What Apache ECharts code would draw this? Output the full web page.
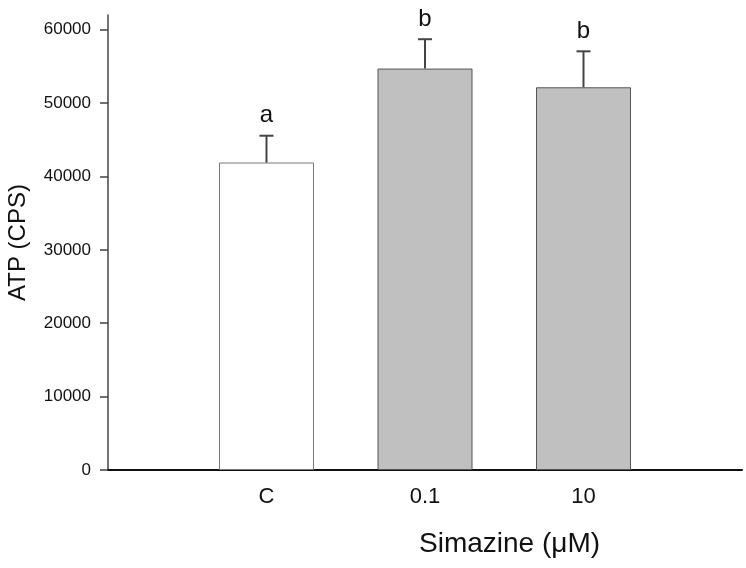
<!DOCTYPE html>
<html>
<head>
<meta charset="utf-8">
<script src="https://cdn.jsdelivr.net/npm/echarts@6/dist/echarts.min.js"></script>
<style>html,body{margin:0;padding:0;background:#fff}#c{width:746px;height:568px}</style>
</head>
<body>
<div id="c"></div>
<script>
var categories = ['C', '0.1', '10'];
var positions = [1, 2, 3];
var means = [41900, 54700, 52150];
var errors = [3650, 4000, 4900];
var letters = ['a', 'b', 'b'];
var yTicks = [0, 10000, 20000, 30000, 40000, 50000, 60000];
var barColors = ['#ffffff', '#c0c0c0', '#c0c0c0'];

var FONT = '"Liberation Sans", Arial, sans-serif';
var chart = echarts.init(document.getElementById('c'), null, {renderer: 'canvas'});

var barData = means.map(function (m, i) {
  return {value: [positions[i], m], itemStyle: {color: barColors[i], borderColor: i === 0 ? '#777' : '#555', borderWidth: 1}};
});
var errData = means.map(function (m, i) { return [positions[i], m, m + errors[i], i]; });

chart.setOption({
  animation: false,
  grid: {left: 108, right: 4, top: 15, bottom: 98, containLabel: false, outerBoundsMode: 'none'},
  xAxis: {
    type: 'value', min: 0, max: 4, interval: 1,
    axisLine: {show: true, onZero: false, lineStyle: {color: '#111', width: 2}},
    axisTick: {show: false},
    splitLine: {show: false},
    axisLabel: {
      margin: 16, fontFamily: FONT, fontSize: 22, color: '#111',
      formatter: function (v) { return categories[positions.indexOf(v)] || ''; }
    }
  },
  yAxis: {
    type: 'value', min: 0, max: 62000,
    axisLine: {show: true, lineStyle: {color: '#444', width: 1.5}},
    axisTick: {show: true, length: 8, lineStyle: {color: '#444', width: 1.5}, customValues: yTicks},
    axisLabel: {margin: 17, fontFamily: FONT, fontSize: 17, color: '#111', customValues: yTicks,
      formatter: function (v) { return String(v); }},
    splitLine: {show: false},
    name: 'ATP (CPS)', nameLocation: 'middle', nameGap: 78,
    nameTextStyle: {fontFamily: FONT, fontSize: 24, color: '#111'}
  },
  graphic: [{
    type: 'text', left: 419, top: 530,
    style: {text: 'Simazine (\u03bcM)', font: '28px ' + FONT, fill: '#111'}
  }],
  series: [{
    type: 'bar', data: barData, barWidth: 95, z: 2
  }, {
    type: 'custom', data: errData, z: 3,
    renderItem: function (params, api) {
      var x = api.value(0);
      var base = api.coord([x, api.value(1)]);
      var top = api.coord([x, api.value(2)]);
      var idx = api.value(3);
      return {
        type: 'group',
        children: [
          {type: 'line', shape: {x1: base[0], y1: base[1], x2: top[0], y2: top[1]}, style: {stroke: '#444', lineWidth: 2}},
          {type: 'line', shape: {x1: top[0] - 7, y1: top[1], x2: top[0] + 7, y2: top[1]}, style: {stroke: '#444', lineWidth: 2}},
          {type: 'text', x: top[0], y: top[1] - 8, style: {text: letters[idx], font: '24px ' + FONT, fill: '#111', align: 'center', verticalAlign: 'bottom'}}
        ]
      };
    }
  }]
});
</script>
</body>
</html>
